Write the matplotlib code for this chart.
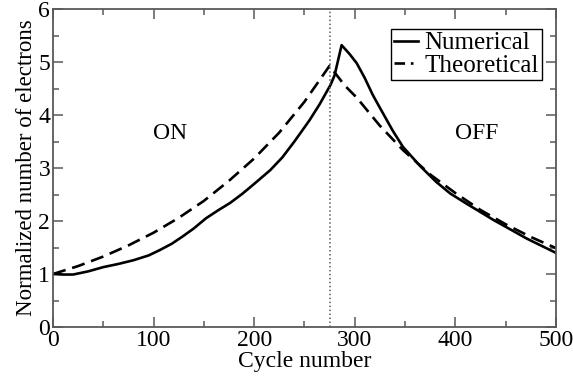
import matplotlib
matplotlib.use("Agg")
import matplotlib.pyplot as plt
from matplotlib.lines import Line2D
from matplotlib.ticker import MultipleLocator

plt.rcParams['font.family'] = ['Liberation Serif', 'DejaVu Serif']
plt.rcParams['mathtext.fontset'] = 'stix'

# Numerical simulation: electron count normalised to its initial value
num_cycle = [0, 10, 20, 35, 50, 65, 80, 95, 106, 118, 129, 140, 152, 164, 176,
             188, 200, 216, 228, 240, 255, 265, 276, 280, 287, 295, 302, 310,
             318, 325, 338, 348, 365, 381, 395, 411, 425, 438, 455, 471, 485, 500]
num_value = [1.00, 0.99, 0.99, 1.05, 1.13, 1.19, 1.26, 1.35, 1.45, 1.57, 1.71,
             1.86, 2.05, 2.20, 2.34, 2.51, 2.70, 2.96, 3.20, 3.50, 3.90, 4.20,
             4.57, 4.75, 5.32, 5.15, 4.98, 4.70, 4.38, 4.14, 3.70, 3.40, 3.04,
             2.74, 2.52, 2.33, 2.17, 2.02, 1.84, 1.67, 1.54, 1.40]

# Theoretical prediction: growth while ON, decay while OFF
theo_cycle = [0, 25, 50, 75, 100, 125, 150, 175, 200, 225, 250, 275,
              290, 302, 325, 348, 375, 400, 425, 450, 475, 500]
theo_value = [1.00, 1.15, 1.33, 1.54, 1.78, 2.06, 2.38, 2.76, 3.18, 3.67, 4.25, 4.93,
              4.56, 4.33, 3.80, 3.34, 2.88, 2.53, 2.21, 1.94, 1.70, 1.49]

switch_cycle = 275

fig = plt.figure(figsize=(5.73, 3.80), dpi=100)
ax = fig.add_axes([0.0925, 0.1395, 0.8775, 0.8365])

ax.plot(num_cycle, num_value, color='black', lw=1.9, solid_joinstyle='round')
ax.plot(theo_cycle, theo_value, color='black', lw=1.9,
        linestyle=(0, (5, 2.6)))
ax.axvline(switch_cycle, color='0.35', lw=1.1, linestyle=(0, (1, 1.6)))

ax.set_xlim(0, 500)
ax.set_ylim(0, 6)
ax.xaxis.set_major_locator(MultipleLocator(100))
ax.xaxis.set_minor_locator(MultipleLocator(50))
ax.yaxis.set_major_locator(MultipleLocator(1))
ax.yaxis.set_minor_locator(MultipleLocator(0.5))
ax.tick_params(which='both', direction='in', top=True, right=True,
               color='0.35', width=1.1, labelsize=17, pad=2)
ax.tick_params(which='major', length=7)
ax.tick_params(which='minor', length=4)
for s in ax.spines.values():
    s.set_color('0.35')
    s.set_linewidth(1.3)

ax.set_xlabel('Cycle number', fontsize=17, labelpad=0)
ax.set_ylabel('Normalized number of electrons', fontsize=16.5, labelpad=1)

ax.text(116, 3.66, 'ON', fontsize=17, ha='center', va='center')
ax.text(421, 3.66, 'OFF', fontsize=17, ha='center', va='center')

handles = [Line2D([], [], color='black', lw=1.9),
           Line2D([], [], color='black', lw=1.9, linestyle=(0, (4, 2.2, 1, 2.2)))]
leg = ax.legend(handles, ['Numerical', 'Theoretical'], loc='upper right',
                bbox_to_anchor=(0.972, 0.938), fontsize=18, frameon=True,
                fancybox=False, framealpha=1, edgecolor='black',
                handlelength=0.95, handletextpad=0.25, borderpad=0.12,
                labelspacing=0.0, borderaxespad=0.0)
leg.get_frame().set_linewidth(1.0)

fig.savefig('out.png', dpi=100)
